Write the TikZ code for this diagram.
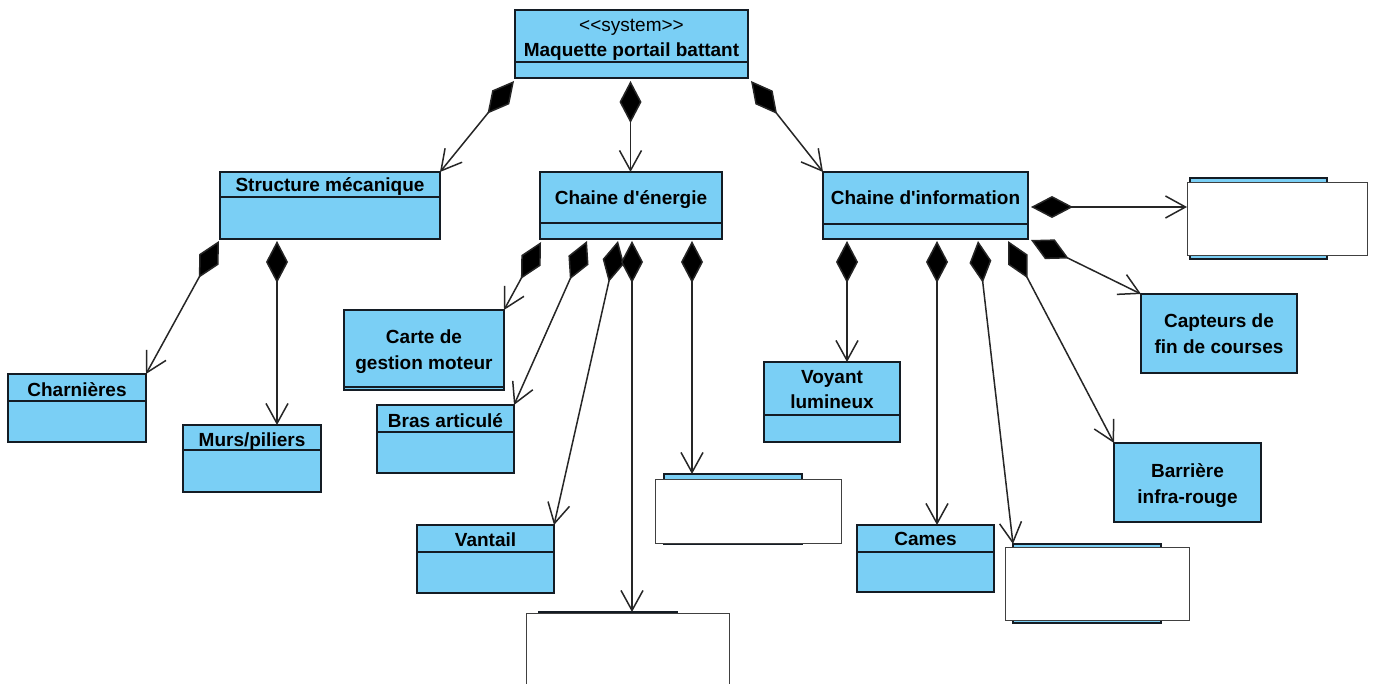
\documentclass[tikz,border=0pt]{standalone}
\usepackage{fontspec}
\newfontfamily\umlfont{Liberation Sans}
\usetikzlibrary{arrows.meta}
\definecolor{umlblue}{RGB}{122,207,245}
\definecolor{umledge}{RGB}{20,28,36}
\tikzset{
  cls/.style={draw=umledge, fill=umlblue, line width=1.6pt, anchor=north west, inner sep=0pt, outer sep=0pt},
  blank/.style={draw=black!75, fill=white, line width=1pt, anchor=north west, inner sep=0pt, outer sep=0pt},
  divider/.style={draw=umledge, line width=1.5pt},
  nm/.style={font=\umlfont\fontsize{19}{24}\selectfont\bfseries, inner sep=0pt, anchor=base},
  stereo/.style={font=\umlfont\fontsize{19}{24}\selectfont, inner sep=0pt, anchor=base},
  comp/.style={draw=black!85, line width=1.5pt, arrows={Diamond[length=42pt,width=22pt,fill=black]-Straight Barb[length=20pt,width=22pt]}},
}
\begin{document}
\begin{tikzpicture}[x=1pt,y=-1pt]
\useasboundingbox (0,0) rectangle (1375,684);
\clip (0,0) rectangle (1375,684);
\fill[white] (0,0) rectangle (1375,684);

% class boxes
\node[cls, minimum width=233pt, minimum height=68pt] (maq) at (515,10) {};
\draw[divider] (maq.west |- 0,62) -- (maq.east |- 0,62);
\node[cls, minimum width=220pt, minimum height=67pt] (struct) at (220,172) {};
\draw[divider] (struct.west |- 0,197) -- (struct.east |- 0,197);
\node[cls, minimum width=182pt, minimum height=67pt] (ener) at (540,172) {};
\draw[divider] (ener.west |- 0,223) -- (ener.east |- 0,223);
\node[cls, minimum width=205pt, minimum height=67pt] (info) at (823,172) {};
\draw[divider] (info.west |- 0,224) -- (info.east |- 0,224);

\node[cls, minimum width=138pt, minimum height=68pt] (charn) at (8,374) {};
\draw[divider] (charn.west |- 0,401) -- (charn.east |- 0,401);
\node[cls, minimum width=138pt, minimum height=67pt] (murs) at (183,425) {};
\draw[divider] (murs.west |- 0,450) -- (murs.east |- 0,450);

\node[cls, minimum width=160pt, minimum height=80pt] (carte) at (344,310) {};
\draw[divider] (carte.west |- 0,387) -- (carte.east |- 0,387);
\node[cls, minimum width=137pt, minimum height=68pt] (bras) at (377,405) {};
\draw[divider] (bras.west |- 0,432) -- (bras.east |- 0,432);
\node[cls, minimum width=137pt, minimum height=68pt] (vant) at (417,525) {};
\draw[divider] (vant.west |- 0,552) -- (vant.east |- 0,552);

\node[cls, minimum width=138pt, minimum height=70pt] (hid2) at (664,474) {};
\node[blank, minimum width=186pt, minimum height=64pt] (blank2) at (655,479) {};
\node[cls, minimum width=138pt, minimum height=108pt] (hid4) at (539,612) {};
\node[blank, minimum width=203pt, minimum height=107pt] (blank4) at (526,613) {};

\node[cls, minimum width=136pt, minimum height=80pt] (voy) at (764,362) {};
\draw[divider] (voy.west |- 0,415) -- (voy.east |- 0,415);
\node[cls, minimum width=137pt, minimum height=67pt] (cames) at (857,525) {};
\draw[divider] (cames.west |- 0,552) -- (cames.east |- 0,552);
\node[cls, minimum width=148pt, minimum height=79pt] (hid3) at (1013,544) {};
\node[blank, minimum width=184pt, minimum height=73pt] (blank3) at (1005,547) {};

\node[cls, minimum width=137pt, minimum height=81pt] (hid1) at (1190,178) {};
\node[blank, minimum width=180pt, minimum height=73pt] (blank1) at (1187,183) {};
\node[cls, minimum width=156pt, minimum height=79pt] (capt) at (1141,294) {};
\node[cls, minimum width=147pt, minimum height=79pt] (barr) at (1114,443) {};

% texts
\node[stereo] (maq-s) at (631.5,32) {<\kern0pt<system>\kern0pt>};
\node[nm] (maq-n) at (631.5,57) {Maquette portail battant};
\node[nm] (struct-n) at (330,192) {Structure mécanique};
\node[nm] (ener-n) at (631,205) {Chaine d'énergie};
\node[nm] (info-n) at (925.5,205) {Chaine d'information};
\node[nm] (charn-n) at (77,396) {Charnières};
\node[nm] (murs-n) at (252,446) {Murs/piliers};
\node[nm] (carte-n1) at (424,343) {Carte de};
\node[nm] (carte-n2) at (424,369) {gestion moteur};
\node[nm] (bras-n) at (445.5,427) {Bras articulé};
\node[nm] (vant-n) at (485.5,546) {Vantail};
\node[nm] (cames-n) at (925.5,545) {Cames};
\node[nm] (voy-n1) at (832,383) {Voyant};
\node[nm] (voy-n2) at (832,408) {lumineux};
\node[nm] (capt-n1) at (1219,327) {Capteurs de};
\node[nm] (capt-n2) at (1219,353) {fin de courses};
\node[nm] (barr-n1) at (1187.5,477) {Barrière};
\node[nm] (barr-n2) at (1187.5,503) {infra-rouge};

% connector start points
\coordinate (s-ms) at ([xshift=-1pt,yshift=-3pt]maq.south west);
\coordinate (s-me) at ([xshift=-1pt,yshift=-3pt]maq.south);
\coordinate (s-mi) at ([xshift=3pt,yshift=-3pt]maq.south east);
\coordinate (s-sc) at ([xshift=-1pt,yshift=-2pt]struct.south west);
\coordinate (s-sm) at ([xshift=57pt,yshift=-2pt]struct.south west);
\coordinate (s-e1) at ([xshift=1pt,yshift=-3pt]ener.south west);
\coordinate (s-e2) at ([xshift=47pt,yshift=-2pt]ener.south west);
\coordinate (s-e3) at ([xshift=78pt,yshift=-2pt]ener.south west);
\coordinate (s-e4) at ([xshift=92pt,yshift=-2pt]ener.south west);
\coordinate (s-e5) at ([xshift=152pt,yshift=-2pt]ener.south west);
\coordinate (s-i1) at ([xshift=24pt,yshift=-2pt]info.south west);
\coordinate (s-i2) at ([xshift=114pt,yshift=-2pt]info.south west);
\coordinate (s-i3) at ([xshift=155pt,yshift=-2pt]info.south west);
\coordinate (s-i4) at ([xshift=185pt,yshift=-2pt]info.south west);
\coordinate (s-i5) at ([xshift=3pt,yshift=-1pt]info.south east);
\coordinate (s-i6) at ([xshift=3pt,yshift=-1.5pt]info.east);

% connectors
\draw[comp] (s-ms) -- (struct.north east);
\draw[comp] (s-me) -- (s-me |- ener.north);
\draw[comp] (s-mi) -- (info.north west);
\draw[comp] (s-sc) -- (charn.north east);
\draw[comp] (s-sm) -- (s-sm |- murs.north);
\draw[comp] (s-e1) -- (carte.north east);
\draw[comp] (s-e2) -- (bras.north east);
\draw[comp] (s-e3) -- (vant.north east);
\draw[comp] (s-e4) -- (s-e4 |- hid4.north);
\draw[comp] (s-e5) -- (s-e5 |- hid2.north);
\draw[comp] (s-i1) -- (s-i1 |- voy.north);
\draw[comp] (s-i2) -- (s-i2 |- cames.north);
\draw[comp] (s-i3) -- (hid3.north west);
\draw[comp] (s-i4) -- (barr.north west);
\draw[comp] (s-i5) -- (capt.north west);
\draw[comp] (s-i6) -- (s-i6 -| blank1.west);
\end{tikzpicture}
\end{document}
